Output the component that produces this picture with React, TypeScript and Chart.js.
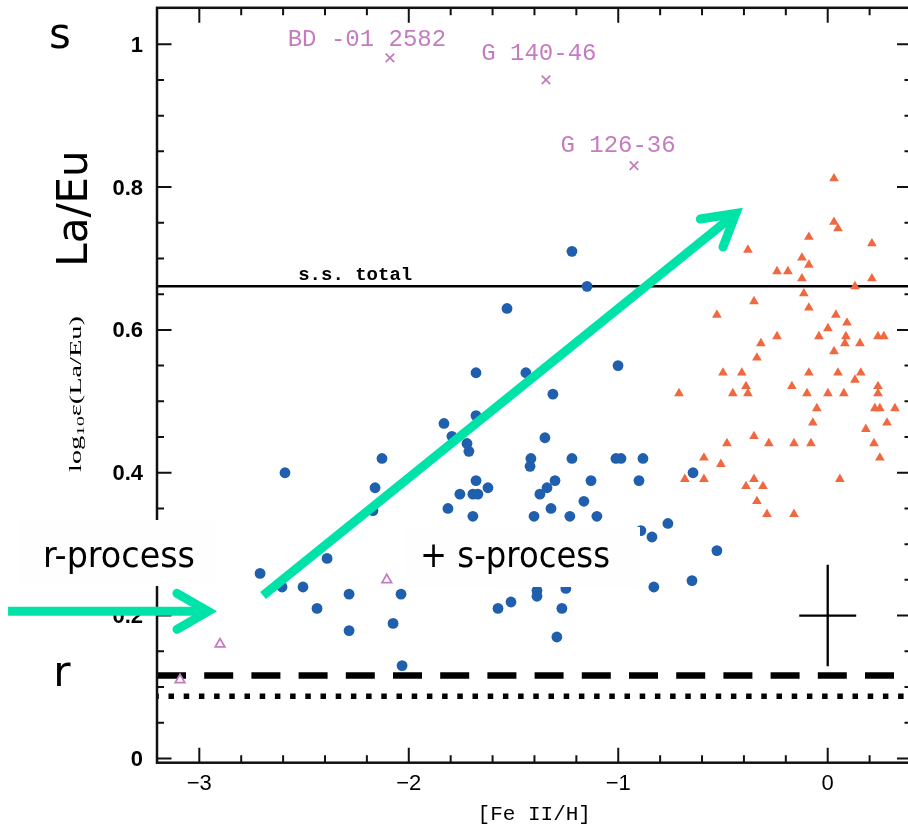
import React, { useEffect, useRef } from "react";
import { Chart, registerables } from "chart.js";

Chart.register(...registerables);

// ---- data ----
const blueFeH = [
  -1.221, -1.149, -1.531, -1.001, -1.679, -1.441, -1.312, -1.679, -1.832, -1.794,
  -1.350, -1.722, -1.713, -2.128, -1.417, -1.221, -1.011, -0.987, -0.882, -1.421,
  -2.591, -0.643, -1.679, -1.302, -1.130, -0.901, -2.161, -1.622, -1.340, -1.756,
  -1.694, -1.670, -1.374, -1.164, -1.813, -1.321, -2.171, -1.694, -1.402, -1.231,
  -1.102, -0.763, -0.892, -0.839, -0.529, -2.390, -2.710, -0.648, -2.605, -2.505,
  -0.830, -1.388, -1.250, -2.285, -2.037, -1.388, -1.512, -2.438, -1.574, -1.269,
  -2.075, -2.285, -1.293, -2.032,
];
const blueLaEu = [
  0.710, 0.661, 0.630, 0.550, 0.540, 0.540, 0.510, 0.480, 0.469, 0.451,
  0.449, 0.441, 0.430, 0.420, 0.420, 0.420, 0.420, 0.420, 0.420, 0.409,
  0.400, 0.400, 0.389, 0.389, 0.389, 0.389, 0.379, 0.379, 0.379, 0.370,
  0.370, 0.370, 0.370, 0.360, 0.350, 0.350, 0.347, 0.339, 0.339, 0.339,
  0.339, 0.329, 0.319, 0.310, 0.291, 0.280, 0.259, 0.249, 0.240, 0.240,
  0.240, 0.235, 0.238, 0.230, 0.230, 0.227, 0.219, 0.210, 0.210, 0.210,
  0.189, 0.179, 0.170, 0.130,
];
const redFeH = [
  0.030, 0.030, 0.049, -0.090, 0.211, -0.381, -0.123, -0.090, -0.242, -0.190,
  -0.123, 0.211, 0.130, -0.114, -0.352, -0.090, -0.529, 0.039, 0.092, 0.001,
  -0.242, -0.042, 0.087, 0.240, 0.268, -0.319, 0.082, 0.154, 0.030, -0.338,
  -0.500, -0.410, -0.090, 0.049, 0.158, 0.130, -0.390, -0.171, 0.240, -0.710,
  -0.453, -0.381, -0.099, 0.001, 0.077, 0.240, -0.052, 0.225, 0.249, 0.321,
  -0.071, 0.283, 0.182, -0.352, -0.481, -0.281, -0.161, -0.080, 0.221, -0.591,
  0.249, -0.510, -0.682, -0.591, -0.352, 0.058, -0.390, -0.309, -0.338, -0.290,
  -0.161,
];
const redLaEu = [
  0.812, 0.751, 0.742, 0.730, 0.721, 0.712, 0.701, 0.691, 0.682, 0.682,
  0.672, 0.672, 0.661, 0.651, 0.640, 0.631, 0.621, 0.621, 0.610, 0.602,
  0.591, 0.591, 0.591, 0.591, 0.591, 0.581, 0.581, 0.581, 0.570, 0.561,
  0.540, 0.540, 0.540, 0.540, 0.540, 0.530, 0.521, 0.521, 0.521, 0.511,
  0.511, 0.511, 0.511, 0.511, 0.511, 0.511, 0.490, 0.490, 0.490, 0.490,
  0.470, 0.470, 0.461, 0.451, 0.441, 0.441, 0.441, 0.441, 0.441, 0.421,
  0.421, 0.412, 0.391, 0.391, 0.391, 0.391, 0.381, 0.381, 0.360, 0.342,
  0.342,
];
const starFeH = [-2.090, -1.345, -0.925];
const starLaEu = [0.981, 0.950, 0.830];
const starNames = ["BD -01 2582", "G 140-46", "G 126-36"];
const starLabelFeH = [-2.200, -1.379, -1.001];
const starLabelLaEu = [1.006, 0.987, 0.858];
const openFeH = [-3.092, -2.901, -2.105];
const openLaEu = [0.110, 0.160, 0.250];

const ssTotal = 0.661;
const rDashed = 0.116;
const rDotted = 0.087;
const errFeH = 0;
const errLaEu = 0.2;
const errDFeH = 0.136;
const errDLaEu = 0.071;

const xMajorTicks = [-3, -2, -1, 0];
const xTickLabels = ["−3", "−2", "−1", "0"];
const yMajorTicks = [0, 0.2, 0.4, 0.6, 0.8, 1];
const yTickLabels = ["0", "0.2", "0.4", "0.6", "0.8", "1"];

const arrowMainFrom = [-2.696, 0.228];
const arrowMainTip = [-0.405, 0.771];
const arrowSideFrom = [-3.913, 0.206];
const arrowSideTip = [-2.915, 0.206];

// ---- styles ----
const BLUE = "#1f5fae";
const RED = "#f0683f";
const PINK = "#c47cc0";
const GREEN = "#00e3a8";
const INK = "#111111";

function fitText(ctx: CanvasRenderingContext2D, text: string, x: number, baseline: number, font: string, targetWidth: number) {
  ctx.save();
  ctx.font = font;
  const w = ctx.measureText(text).width;
  ctx.translate(x, baseline);
  ctx.scale(targetWidth / w, 1);
  ctx.textAlign = "left";
  ctx.textBaseline = "alphabetic";
  ctx.fillStyle = "#000";
  ctx.fillText(text, 0, 0);
  ctx.restore();
}

function drawArrow(ctx: CanvasRenderingContext2D, x0: number, y0: number, tx: number, ty: number) {
  const dx = tx - x0, dy = ty - y0;
  const L = Math.hypot(dx, dy);
  const ux = dx / L, uy = dy / L;
  const vx = tx - ux * 9, vy = ty - uy * 9;
  ctx.save();
  ctx.strokeStyle = GREEN;
  ctx.lineWidth = 9;
  ctx.lineCap = "butt";
  ctx.beginPath();
  ctx.moveTo(x0, y0);
  ctx.lineTo(vx, vy);
  ctx.stroke();
  const back = Math.atan2(-uy, -ux);
  const a = Math.PI / 6;
  const len = 36;
  ctx.lineCap = "round";
  ctx.lineJoin = "miter";
  ctx.miterLimit = 10;
  ctx.beginPath();
  ctx.moveTo(vx + len * Math.cos(back + a), vy + len * Math.sin(back + a));
  ctx.lineTo(vx, vy);
  ctx.lineTo(vx + len * Math.cos(back - a), vy + len * Math.sin(back - a));
  ctx.stroke();
  ctx.restore();
}

const overlay = {
  id: "overlay",
  beforeDatasetsDraw(chart: any) {
    const ctx: CanvasRenderingContext2D = chart.ctx;
    const xs = chart.scales.x, ys = chart.scales.y;
    const { left, right, top, bottom } = chart.chartArea;
    ctx.save();
    // reference lines
    ctx.strokeStyle = "#000";
    ctx.lineWidth = 2.5;
    ctx.beginPath();
    ctx.moveTo(left, ys.getPixelForValue(ssTotal));
    ctx.lineTo(right, ys.getPixelForValue(ssTotal));
    ctx.stroke();

    ctx.lineWidth = 6.5;
    ctx.setLineDash([29, 18.2]);
    ctx.beginPath();
    ctx.moveTo(left, ys.getPixelForValue(rDashed));
    ctx.lineTo(right, ys.getPixelForValue(rDashed));
    ctx.stroke();

    ctx.lineWidth = 5.5;
    ctx.setLineDash([5.5, 9.7]);
    ctx.lineDashOffset = 3.7;
    ctx.beginPath();
    ctx.moveTo(left, ys.getPixelForValue(rDotted));
    ctx.lineTo(right, ys.getPixelForValue(rDotted));
    ctx.stroke();
    ctx.setLineDash([]);
    ctx.lineDashOffset = 0;

    // error cross
    ctx.lineWidth = 2.3;
    ctx.beginPath();
    ctx.moveTo(xs.getPixelForValue(errFeH - errDFeH), ys.getPixelForValue(errLaEu));
    ctx.lineTo(xs.getPixelForValue(errFeH + errDFeH), ys.getPixelForValue(errLaEu));
    ctx.moveTo(xs.getPixelForValue(errFeH), ys.getPixelForValue(errLaEu - errDLaEu));
    ctx.lineTo(xs.getPixelForValue(errFeH), ys.getPixelForValue(errLaEu + errDLaEu));
    ctx.stroke();

    // frame
    ctx.strokeStyle = INK;
    ctx.lineWidth = 2.5;
    ctx.strokeRect(left, top, right - left, bottom - top);

    // ticks
    ctx.lineWidth = 2;
    ctx.beginPath();
    for (let i = -16; i <= 2; i++) {
      const v = i * 0.2;
      const px = xs.getPixelForValue(v);
      if (px < left + 2 || px > right - 2) continue;
      const len = i % 5 === 0 ? 15 : 7.5;
      ctx.moveTo(px, bottom);
      ctx.lineTo(px, bottom - len);
      ctx.moveTo(px, top);
      ctx.lineTo(px, top + len);
    }
    for (let i = 0; i <= 21; i++) {
      const v = i * 0.05;
      const py = ys.getPixelForValue(v);
      if (py < top + 2 || py > bottom - 2) continue;
      const len = i % 4 === 0 ? 14.5 : 7;
      ctx.moveTo(left, py);
      ctx.lineTo(left + len, py);
      ctx.moveTo(right, py);
      ctx.lineTo(right - len, py);
    }
    ctx.stroke();

    // s.s. total label
    ctx.fillStyle = "#000";
    ctx.font = 'bold 19px "Liberation Mono"';
    ctx.textAlign = "left";
    ctx.textBaseline = "alphabetic";
    ctx.fillText("s.s. total", xs.getPixelForValue(-2.528), ys.getPixelForValue(ssTotal) - 6);

    // star labels
    ctx.fillStyle = PINK;
    ctx.font = '24px "Liberation Mono"';
    ctx.textAlign = "center";
    ctx.textBaseline = "middle";
    starNames.forEach((n, i) => {
      ctx.fillText(n, xs.getPixelForValue(starLabelFeH[i]), ys.getPixelForValue(starLabelLaEu[i]));
    });
    ctx.restore();
  },
  afterDatasetsDraw(chart: any) {
    const ctx: CanvasRenderingContext2D = chart.ctx;
    const xs = chart.scales.x, ys = chart.scales.y;
    const { left, bottom, right } = chart.chartArea;
    ctx.save();
    // tick labels
    ctx.fillStyle = "#000";
    ctx.font = 'bold 22px "Liberation Sans"';
    ctx.textAlign = "right";
    ctx.textBaseline = "middle";
    yMajorTicks.forEach((v, i) => {
      ctx.fillText(yTickLabels[i], left - 14, ys.getPixelForValue(v) + 1.5);
    });
    ctx.font = '22px "Liberation Sans"';
    ctx.textAlign = "center";
    xMajorTicks.forEach((v, i) => {
      ctx.fillText(xTickLabels[i], xs.getPixelForValue(v), bottom + 21);
    });
    // x title
    ctx.font = '21px "Liberation Mono"';
    ctx.fillText("[Fe II/H]", (left + right) / 2, bottom + 52);

    // y titles
    ctx.save();
    ctx.translate(86.5, 208.5);
    ctx.rotate(-Math.PI / 2);
    ctx.font = '42px "DejaVu Sans"';
    ctx.textAlign = "center";
    ctx.textBaseline = "alphabetic";
    ctx.fillText("La/Eu", 0, 0);
    ctx.restore();

    ctx.save();
    ctx.translate(81, 394);
    ctx.rotate(-Math.PI / 2);
    const big = '16px "Liberation Serif"';
    const small = '11px "Liberation Serif"';
    const parts = [
      { t: "log", f: big, dy: 0 },
      { t: "10", f: small, dy: 3 },
      { t: "ε", f: big, dy: 0 },
      { t: "(La/Eu)", f: big, dy: 0 },
    ];
    let total = 0;
    const widths = parts.map((p) => {
      ctx.font = p.f;
      const w = ctx.measureText(p.t).width;
      total += w;
      return w;
    });
    ctx.scale(156 / total, 1);
    ctx.textAlign = "left";
    ctx.textBaseline = "alphabetic";
    let cx = -total / 2;
    parts.forEach((p, i) => {
      ctx.font = p.f;
      ctx.fillText(p.t, cx, p.dy);
      cx += widths[i];
    });
    ctx.restore();

    // big s / r
    ctx.font = '42px "DejaVu Sans"';
    ctx.textAlign = "center";
    ctx.textBaseline = "alphabetic";
    ctx.fillText("s", 60, 48);
    ctx.fillText("r", 62, 686);

    // white label boxes
    ctx.fillStyle = "#fefefe";
    ctx.fillRect(18, 520, 197, 66);
    ctx.fillRect(405, 527, 235, 60);
    fitText(ctx, "r-process", 43, 567, '36px "DejaVu Sans"', 152);
    fitText(ctx, "+ s-process", 420, 567, '36px "DejaVu Sans"', 190);

    // arrows
    drawArrow(ctx,
      xs.getPixelForValue(arrowMainFrom[0]), ys.getPixelForValue(arrowMainFrom[1]),
      xs.getPixelForValue(arrowMainTip[0]), ys.getPixelForValue(arrowMainTip[1]));
    drawArrow(ctx,
      xs.getPixelForValue(arrowSideFrom[0]), ys.getPixelForValue(arrowSideFrom[1]),
      xs.getPixelForValue(arrowSideTip[0]), ys.getPixelForValue(arrowSideTip[1]));
    ctx.restore();
  },
};

export default function App() {
  const ref = useRef<HTMLCanvasElement>(null);
  useEffect(() => {
    const canvas = ref.current!;
    const chart = new Chart(canvas, {
      type: "scatter",
      data: {
        datasets: [
          {
            label: "open",
            data: openFeH.map((x, i) => ({ x, y: openLaEu[i] })),
            pointStyle: "triangle",
            pointRadius: 5.5,
            backgroundColor: "#ffffff",
            borderColor: PINK,
            borderWidth: 1.8,
          },
          {
            label: "stars",
            data: starFeH.map((x, i) => ({ x, y: starLaEu[i] })),
            pointStyle: "crossRot",
            pointRadius: 6,
            borderColor: PINK,
            borderWidth: 1.8,
          },
          {
            label: "blue",
            data: blueFeH.map((x, i) => ({ x, y: blueLaEu[i] })),
            pointStyle: "circle",
            pointRadius: 5.4,
            backgroundColor: BLUE,
            borderWidth: 0,
          },
          {
            label: "red",
            data: redFeH.map((x, i) => ({ x, y: redLaEu[i] })),
            pointStyle: "triangle",
            pointRadius: 5.6,
            backgroundColor: RED,
            borderWidth: 0,
          },
        ],
      },
      options: {
        responsive: false,
        animation: false,
        events: [],
        layout: { padding: { left: 157, right: 18.5, top: 6.7, bottom: 67.3 } },
        scales: {
          x: { type: "linear", min: -3.202, max: 0.4, display: false },
          y: { type: "linear", min: -0.006, max: 1.051, display: false },
        },
        plugins: { legend: { display: false }, tooltip: { enabled: false } },
      },
      plugins: [overlay],
    } as any);
    return () => chart.destroy();
  }, []);
  return (
    <div style={{ position: "fixed", left: 0, top: 0, width: 908, height: 830, overflow: "hidden", background: "#fff" }}>
      <canvas ref={ref} width={930} height={830} style={{ display: "block", width: 930, height: 830 }} />
    </div>
  );
}
